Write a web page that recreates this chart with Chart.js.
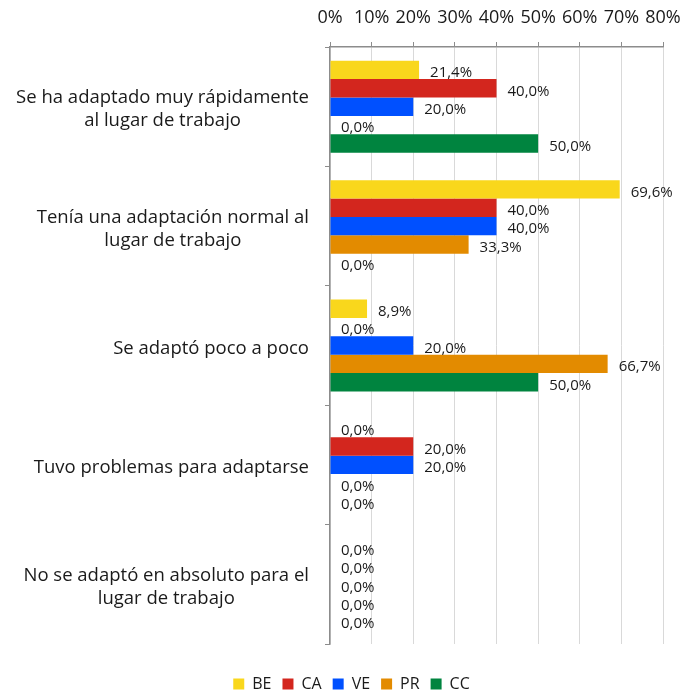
<!DOCTYPE html>
<html>
<head>
<meta charset="utf-8">
<script src="https://cdn.jsdelivr.net/npm/chart.js@4.4.1/dist/chart.umd.min.js"></script>
<style>
  html, body { margin: 0; padding: 0; background: #fff; }
  #wrap { width: 694px; height: 694px; }
</style>
</head>
<body>
<div id="wrap"><canvas id="chart1"></canvas></div>
<script>
// categories (multi-line labels as in the original)
const categories = [
  ["Se ha adaptado muy rápidamente", "al lugar de trabajo"],
  ["Tenía una adaptación normal al", "lugar de trabajo"],
  ["Se adaptó poco a poco"],
  ["Tuvo problemas para adaptarse"],
  ["No se adaptó en absoluto para el", "lugar de trabajo"]
];

// series values (%)
const seriesNames = ["BE", "CA", "VE", "PR", "CC"];
const beValues = [21.4, 69.6, 8.9, 0, 0];
const caValues = [40.0, 40.0, 0, 20.0, 0];
const veValues = [20.0, 40.0, 20.0, 20.0, 0];
const prValues = [0, 33.3, 66.7, 0, 0];
const ccValues = [50.0, 0, 50.0, 0, 0];

const xTicks = [0, 10, 20, 30, 40, 50, 60, 70, 80];

const colours = ["#f9d71c", "#d3261e", "#0050ff", "#e38b00", "#00843f"];
const allValues = [beValues, caValues, veValues, prValues, ccValues];

const FONT = "'Open Sans', 'DejaVu Sans', sans-serif";

let datasets = [];
for (let i = 0; i < seriesNames.length; i++) {
  datasets.push({
    label: seriesNames[i],
    data: allValues[i],
    backgroundColor: colours[i],
    borderWidth: 0
  });
}

//labels like "21,4%" to the right of each bar
const valueLabels = {
  id: "valueLabels",
  afterDatasetsDraw(chart) {
    const ctx = chart.ctx;
    ctx.save();
    ctx.font = "15px " + FONT;
    ctx.fillStyle = "#1a1a1a";
    ctx.textAlign = "left";
    ctx.textBaseline = "middle";
    chart.data.datasets.forEach((ds, di) => {
      const meta = chart.getDatasetMeta(di);
      meta.data.forEach((bar, j) => {
        const txt = ds.data[j].toFixed(1).replace(".", ",") + "%";
        ctx.fillText(txt, bar.x + 11, bar.y + 3);
      });
    });
    ctx.restore();
  }
};

//category labels: block right aligned next to the axis, lines centered inside the block
const categoryLabels = {
  id: "categoryLabels",
  afterDraw(chart) {
    const ctx = chart.ctx;
    const yScale = chart.scales.y;
    ctx.save();
    ctx.font = "18.5px " + FONT;
    ctx.fillStyle = "#1a1a1a";
    ctx.textAlign = "center";
    ctx.textBaseline = "middle";
    const lineH = 23;
    chart.data.labels.forEach((lines, i) => {
      let widest = 0;
      lines.forEach((l) => { widest = Math.max(widest, ctx.measureText(l).width); });
      const cx = yScale.right - 21 - widest / 2;
      const cy = yScale.getPixelForTick(i) + 3;
      lines.forEach((l, k) => {
        ctx.fillText(l, cx, cy + (k - (lines.length - 1) / 2) * lineH);
      });
    });
    ctx.restore();
  }
};

//move the legend a bit lower and to the right, like the original
const legendShift = {
  id: "legendShift",
  afterLayout(chart) {
    const lg = chart.legend;
    lg.left += 20;
    lg.right += 20;
    lg.top += 21;
    lg.bottom += 21;
  }
};

new Chart(document.getElementById("chart1"), {
  type: "bar",
  data: { labels: categories, datasets: datasets },
  plugins: [valueLabels, categoryLabels, legendShift],
  options: {
    indexAxis: "y",
    responsive: true,
    maintainAspectRatio: false,
    animation: false,
    categoryPercentage: 0.77,
    barPercentage: 1.0,
    layout: { padding: { top: 0, right: 31, left: 0, bottom: 13 } },
    scales: {
      x: {
        position: "top",
        min: 0,
        max: 80,
        afterBuildTicks(scale) {
          scale.ticks = xTicks.map((v) => ({ value: v }));
        },
        afterFit(scale) {
          scale.height = 47;
        },
        ticks: {
          callback: (v) => v + "%",
          color: "#1a1a1a",
          font: { family: FONT, size: 18 },
          padding: 13,
          maxRotation: 0
        },
        grid: {
          color: "#d9d9d9",
          tickColor: "#8c8c8c",
          tickLength: 5
        },
        border: { color: "#8c8c8c", width: 1.5 }
      },
      y: {
        afterFit(scale) {
          scale.width = 330;
        },
        ticks: { display: false },
        grid: {
          drawOnChartArea: false,
          tickColor: "#8c8c8c",
          tickLength: 5
        },
        border: { color: "#8c8c8c", width: 1.5 }
      }
    },
    plugins: {
      legend: {
        position: "bottom",
        labels: {
          boxWidth: 11,
          boxHeight: 11,
          padding: 11,
          color: "#1a1a1a",
          font: { family: FONT, size: 16 }
        }
      },
      tooltip: { enabled: false }
    }
  }
});
</script>
</body>
</html>
